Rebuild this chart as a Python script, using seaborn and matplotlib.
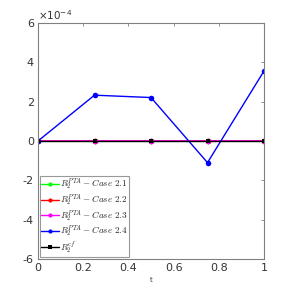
import numpy as np
import pandas as pd
import matplotlib
matplotlib.use("Agg")
import matplotlib.pyplot as plt
import seaborn as sns

t = [0, 0.25, 0.5, 0.75, 1.0]
case21 = [0.0, 0.03e-5, 0.03e-5, 0.03e-5, 0.03e-5]
case22 = [0.0, 0.04e-5, 0.04e-5, 0.04e-5, 0.04e-5]
case23 = [0.0, 0.06e-5, 0.06e-5, 0.06e-5, 0.06e-5]
case24 = [0.0, 2.33e-4, 2.21e-4, -1.10e-4, 3.56e-4]
cf = [0.0, 0.0, 0.0, 0.0, 0.0]

labels = [r'$R_2^{PTA}-Case\ 2.1$', r'$R_2^{PTA}-Case\ 2.2$',
          r'$R_2^{PTA}-Case\ 2.3$', r'$R_2^{PTA}-Case\ 2.4$', r'$R_2^{cf}$']
series = [case21, case22, case23, case24, cf]
colors = ['#00ff00', '#ff0000', '#ff00ff', '#0000ff', '#000000']
markers = ['o', 'o', 'o', 'o', 's']

rows = []
for lab, vals in zip(labels, series):
    for tt, v in zip(t, vals):
        rows.append({'t': tt, 'val': v, 'series': lab})
df = pd.DataFrame(rows)

sns.set_style("white")
plt.rcParams['font.family'] = ['DejaVu Sans']
plt.rcParams['mathtext.fontset'] = 'cm'

fig = plt.figure(figsize=(2.92, 2.92), dpi=100)
ax = fig.add_axes([38/292, 1 - 259/292, (264-38)/292, (259-23)/292])

sns.lineplot(data=df, x='t', y='val', hue='series', style='series',
             palette=dict(zip(labels, colors)),
             markers=dict(zip(labels, markers)),
             dashes=False, markersize=4, linewidth=1.0, markeredgewidth=0,
             hue_order=labels, style_order=labels, ax=ax, legend=True)
for ln in ax.get_lines():
    if ln.get_marker() == 's':
        ln.set_markersize(3)

ax.set_xlim(0, 1)
ax.set_ylim(-6e-4, 6e-4)
ax.set_xticks([0, 0.2, 0.4, 0.6, 0.8, 1])
ax.set_xticklabels(['0', '0.2', '0.4', '0.6', '0.8', '1'])
ax.set_yticks([-6e-4, -4e-4, -2e-4, 0, 2e-4, 4e-4, 6e-4])
ax.set_yticklabels(['-6', '-4', '-2', '0', '2', '4', '6'])
ax.text(0.0, 1.003, r'$\times 10^{-4}$', transform=ax.transAxes,
        fontsize=7.5, color='#333333', va='bottom', ha='left',
        math_fontfamily='dejavusans')
ax.set_xlabel('t', fontsize=5, color='#333333', labelpad=3)
ax.set_ylabel('')
for s in ax.spines.values():
    s.set_color('#808080')
    s.set_linewidth(0.8)
ax.tick_params(axis='both', labelsize=8, colors='#333333', direction='in',
               length=2.5, width=0.6, pad=3, top=True, right=True)
ax.tick_params(axis='both', which='both', color='#808080')

leg = ax.legend(loc='lower left', fontsize=6.6, frameon=True, fancybox=False,
                edgecolor='#808080', borderpad=0.1, labelspacing=0.0,
                handlelength=1.9, handletextpad=0.2, borderaxespad=0.25)
leg.get_frame().set_linewidth(0.8)
for h in leg.legend_handles:
    h.set_markersize(3)

fig.savefig('out.png', dpi=100)
